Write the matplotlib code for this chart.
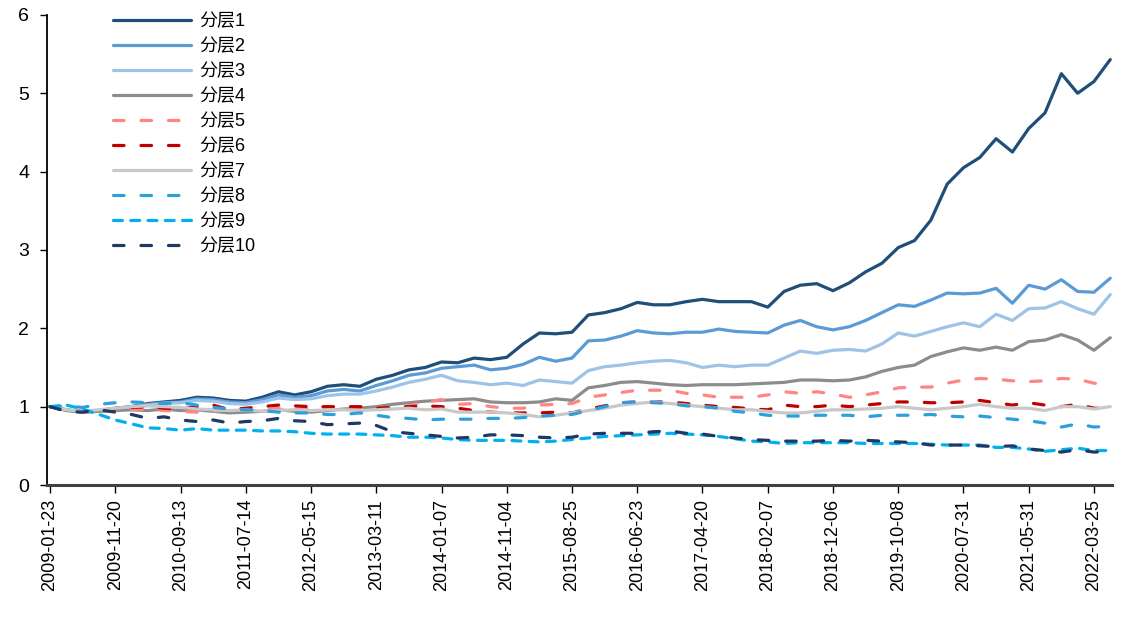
import numpy as np
import matplotlib
matplotlib.use("Agg")
import matplotlib.pyplot as plt

# trading-day index, one reading every 50 days
step = 50

tick_labels = ["2009-01-23", "2009-11-20", "2010-09-13", "2011-07-14", "2012-05-15",
               "2013-03-11", "2014-01-07", "2014-11-04", "2015-08-25", "2016-06-23",
               "2017-04-20", "2018-02-07", "2018-12-06", "2019-10-08", "2020-07-31",
               "2021-05-31", "2022-03-25"]

names = ["分层1", "分层2", "分层3", "分层4", "分层5",
         "分层6", "分层7", "分层8", "分层9", "分层10"]

layer1 = [1.00, 0.96, 0.93, 0.95, 0.98, 1.00, 1.04, 1.06, 1.08, 1.12, 1.11, 1.08, 1.07, 1.12,
          1.19, 1.15, 1.19, 1.26, 1.28, 1.26, 1.35, 1.40, 1.47, 1.50, 1.57, 1.56, 1.62, 1.60,
          1.63, 1.80, 1.94, 1.93, 1.95, 2.17, 2.20, 2.25, 2.33, 2.30, 2.30, 2.34, 2.37, 2.34,
          2.34, 2.34, 2.27, 2.47, 2.55, 2.57, 2.48, 2.58, 2.72, 2.83, 3.03, 3.12, 3.38, 3.84,
          4.05, 4.18, 4.42, 4.25, 4.55, 4.75, 5.25, 5.00, 5.15, 5.43]
layer2 = [1.00, 0.96, 0.93, 0.95, 0.97, 1.00, 1.03, 1.05, 1.06, 1.10, 1.09, 1.06, 1.05, 1.09,
          1.15, 1.12, 1.14, 1.20, 1.22, 1.20, 1.27, 1.33, 1.40, 1.43, 1.49, 1.51, 1.53, 1.47,
          1.49, 1.54, 1.63, 1.58, 1.62, 1.84, 1.85, 1.90, 1.97, 1.94, 1.93, 1.95, 1.95, 1.99,
          1.96, 1.95, 1.94, 2.04, 2.10, 2.02, 1.98, 2.02, 2.10, 2.20, 2.30, 2.28, 2.36, 2.45,
          2.44, 2.45, 2.51, 2.32, 2.55, 2.50, 2.62, 2.47, 2.46, 2.64]
layer3 = [1.00, 0.96, 0.93, 0.95, 0.97, 0.99, 1.02, 1.04, 1.05, 1.08, 1.07, 1.04, 1.03, 1.06,
          1.11, 1.09, 1.10, 1.14, 1.16, 1.16, 1.20, 1.25, 1.31, 1.35, 1.40, 1.33, 1.31, 1.28,
          1.30, 1.27, 1.34, 1.32, 1.30, 1.46, 1.51, 1.53, 1.56, 1.58, 1.59, 1.56, 1.50, 1.53,
          1.51, 1.53, 1.53, 1.62, 1.71, 1.68, 1.72, 1.73, 1.71, 1.80, 1.94, 1.90, 1.96, 2.02,
          2.07, 2.02, 2.18, 2.10, 2.25, 2.26, 2.34, 2.25, 2.18, 2.43]
layer4 = [1.00, 0.95, 0.93, 0.94, 0.95, 0.96, 0.95, 0.97, 0.95, 0.96, 0.94, 0.92, 0.93, 0.94,
          0.96, 0.94, 0.93, 0.95, 0.97, 0.98, 1.00, 1.03, 1.05, 1.07, 1.08, 1.09, 1.10, 1.06,
          1.05, 1.05, 1.06, 1.10, 1.08, 1.24, 1.27, 1.31, 1.32, 1.30, 1.28, 1.27, 1.28, 1.28,
          1.28, 1.29, 1.30, 1.31, 1.34, 1.34, 1.33, 1.34, 1.38, 1.45, 1.50, 1.53, 1.64, 1.70,
          1.75, 1.72, 1.76, 1.72, 1.83, 1.85, 1.92, 1.85, 1.72, 1.88]
layer5 = [1.00, 0.95, 0.93, 0.94, 0.95, 0.96, 0.97, 0.95, 0.94, 0.93, 0.94, 0.96, 0.96, 0.95,
          0.98, 0.97, 0.98, 0.97, 0.96, 0.97, 0.98, 0.99, 1.01, 1.06, 1.09, 1.03, 1.04, 1.00,
          0.98, 0.98, 1.02, 1.03, 1.04, 1.12, 1.15, 1.18, 1.21, 1.21, 1.21, 1.17, 1.15, 1.12,
          1.12, 1.12, 1.15, 1.19, 1.17, 1.19, 1.16, 1.12, 1.15, 1.19, 1.24, 1.25, 1.25, 1.30,
          1.34, 1.36, 1.35, 1.33, 1.32, 1.33, 1.36, 1.35, 1.30, 1.27]
layer6 = [1.00, 0.96, 0.94, 0.95, 0.97, 0.99, 1.00, 0.98, 0.97, 1.00, 1.02, 0.96, 0.98, 1.00,
          1.02, 1.01, 1.00, 1.00, 1.00, 1.00, 0.98, 0.99, 1.00, 1.01, 1.00, 0.98, 0.95, 0.93,
          0.92, 0.92, 0.92, 0.93, 0.92, 0.97, 1.01, 1.05, 1.06, 1.06, 1.06, 1.04, 1.02, 1.00,
          0.99, 0.97, 0.96, 1.02, 1.00, 1.00, 1.02, 1.00, 1.02, 1.04, 1.06, 1.06, 1.05, 1.05,
          1.06, 1.08, 1.05, 1.02, 1.05, 1.02, 1.00, 1.03, 0.98, 0.98]
layer7 = [1.00, 0.96, 0.94, 0.96, 0.98, 1.00, 1.01, 1.00, 0.99, 0.97, 0.96, 0.95, 0.96, 0.94,
          0.95, 0.96, 0.95, 0.96, 0.96, 0.95, 0.96, 0.97, 0.98, 0.96, 0.97, 0.93, 0.93, 0.93,
          0.92, 0.90, 0.87, 0.89, 0.92, 0.95, 0.98, 1.02, 1.04, 1.06, 1.04, 1.02, 1.00, 0.98,
          0.96, 0.96, 0.94, 0.92, 0.92, 0.94, 0.96, 0.96, 0.97, 0.98, 1.00, 0.98, 0.96, 0.98,
          1.00, 1.03, 1.00, 0.98, 0.98, 0.95, 1.00, 1.00, 0.97, 1.00]
layer8 = [1.00, 1.01, 0.99, 1.03, 1.05, 1.06, 1.05, 1.04, 1.05, 1.02, 0.99, 0.97, 0.96, 0.95,
          0.93, 0.92, 0.92, 0.90, 0.90, 0.92, 0.89, 0.86, 0.85, 0.83, 0.84, 0.84, 0.84, 0.85,
          0.85, 0.86, 0.88, 0.89, 0.90, 0.95, 1.00, 1.05, 1.06, 1.05, 1.04, 1.01, 1.00, 0.98,
          0.94, 0.92, 0.89, 0.88, 0.88, 0.89, 0.89, 0.89, 0.87, 0.89, 0.89, 0.89, 0.90, 0.88,
          0.87, 0.88, 0.86, 0.84, 0.82, 0.79, 0.74, 0.78, 0.74, 0.75]
layer9 = [1.00, 1.02, 0.97, 0.90, 0.83, 0.78, 0.73, 0.72, 0.70, 0.72, 0.70, 0.70, 0.70, 0.69,
          0.69, 0.68, 0.66, 0.65, 0.65, 0.65, 0.64, 0.63, 0.61, 0.61, 0.60, 0.58, 0.57, 0.57,
          0.57, 0.56, 0.55, 0.56, 0.58, 0.60, 0.62, 0.63, 0.64, 0.65, 0.66, 0.65, 0.64, 0.62,
          0.59, 0.56, 0.55, 0.53, 0.54, 0.54, 0.54, 0.54, 0.53, 0.53, 0.53, 0.53, 0.52, 0.51,
          0.51, 0.51, 0.48, 0.48, 0.46, 0.43, 0.45, 0.47, 0.44, 0.44]
layer10 = [1.00, 0.94, 0.93, 0.96, 0.93, 0.90, 0.85, 0.87, 0.83, 0.81, 0.83, 0.79, 0.81, 0.82,
           0.85, 0.82, 0.81, 0.77, 0.78, 0.79, 0.76, 0.68, 0.66, 0.64, 0.62, 0.60, 0.61, 0.64,
           0.64, 0.63, 0.61, 0.60, 0.61, 0.65, 0.66, 0.66, 0.66, 0.68, 0.69, 0.66, 0.65, 0.62,
           0.60, 0.58, 0.57, 0.56, 0.56, 0.56, 0.57, 0.56, 0.57, 0.56, 0.55, 0.54, 0.51, 0.51,
           0.51, 0.50, 0.49, 0.50, 0.46, 0.44, 0.42, 0.45, 0.42, 0.43]

series = [layer1, layer2, layer3, layer4, layer5, layer6, layer7, layer8, layer9, layer10]
colors = ["#1F4E79", "#5B9BD5", "#9DC3E6", "#8C8C8C", "#FF8585",
          "#C00000", "#C8C8C8", "#2E9FDB", "#00B0F0", "#203864"]
dashed = (0, (3.3, 5.3))
dotted = (0, (2.8, 2.6))
styles = ["-", "-", "-", "-", dashed, dashed, "-", dashed, dotted, dashed]

plt.rcParams["font.family"] = ["Liberation Sans", "Noto Sans CJK SC", "DejaVu Sans"]

fig = plt.figure(figsize=(11.22, 6.21), dpi=100)
ax = fig.add_axes([0.042, 0.219, 0.949, 0.757])

x = np.arange(len(layer1)) * step
for vals, c, ls, name in zip(series, colors, styles, names):
    ax.plot(x, vals, color=c, linestyle=ls, linewidth=2.3, label=name,
            dash_capstyle="round", solid_capstyle="round")

ax.set_xlim(-9, 3255)
ax.set_ylim(0, 6)
ax.set_yticks(range(7))
ax.set_xticks(np.arange(len(tick_labels)) * 200)
ax.set_xticklabels(tick_labels, rotation=90, fontsize=13)
ax.tick_params(axis="y", labelsize=14, length=5, width=1, direction="out", pad=8)
ax.tick_params(axis="x", length=6, width=1, direction="out", pad=4)

for s in ["top", "right"]:
    ax.spines[s].set_visible(False)
ax.spines["left"].set_linewidth(1.3)
ax.spines["bottom"].set_linewidth(2.2)
ax.spines["bottom"].set_color("#404040")

ax.legend(loc="upper left", bbox_to_anchor=(0.062, 1.003), frameon=False, fontsize=13,
          handlelength=4.3, handletextpad=0.45, labelspacing=0.44, borderpad=0, borderaxespad=0)

fig.savefig("out.png", dpi=100)
